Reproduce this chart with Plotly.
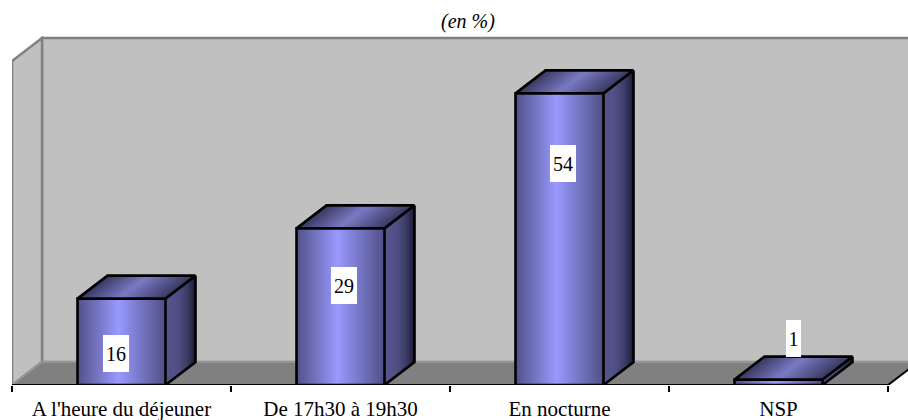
import plotly.graph_objects as go

categories = ["A l'heure du déjeuner", "De 17h30 à 19h30", "En nocturne", "NSP"]
values = [16, 29, 54, 1]
y_axis_max = 60

# ----- styling / layout constants (pixels are only used to set up scales)
W, H = 908, 420
ML, MB = 12, 35
CAT_PX = 219.0
PX_PER_UNIT = 5.4
DX = 30 / CAT_PX
DY = 23 / PX_PER_UNIT
BAR_W = 88 / CAT_PX
N = 88
x_lo, x_hi = -0.5, -0.5 + (W - ML) / CAT_PX
y_hi = (H - MB) / PX_PER_UNIT
label_dx = [-0.025, 0.015, 0.015, 0.07]
label_y = [5.9, 18.5, 41.1, 8.7]


def mix(c1, c2, t):
    return "rgb(%d,%d,%d)" % tuple(round(a + (b - a) * t) for a, b in zip(c1, c2))


def grad(t, edge, mid, peak=0.47):
    return mix(edge, mid, t / peak) if t < peak else mix(mid, edge, (t - peak) / (1 - peak))


FRONT_EDGE, FRONT_MID = (80, 80, 134), (153, 153, 255)
TOP_EDGE, TOP_MID = (56, 56, 96), (122, 122, 196)
SIDE_L, SIDE_R = (84, 84, 140), (26, 26, 50)

fig = go.Figure()

x_left_back = x_lo + DX
x_far = x_hi + 0.2

shapes = [
    dict(type="rect", x0=x_left_back, x1=x_far, y0=DY, y1=y_axis_max + DY,
         fillcolor="#c0c0c0", line=dict(color="#808080", width=2.5), layer="below"),
    dict(type="path",
         path=f"M {x_lo} 0 L {x_lo} {y_axis_max} L {x_left_back} {y_axis_max + DY} L {x_left_back} {DY} Z",
         fillcolor="#c0c0c0", line=dict(color="#808080", width=2.5), layer="below"),
    dict(type="path",
         path=f"M {x_lo} 0 L {x_left_back} {DY} L {3.5 + DX} {DY} L 3.5 0 Z",
         fillcolor="#808080", line=dict(color="#9a9a9a", width=1.5), layer="below"),
]

for i, v in enumerate(values):
    xl, xr = i - BAR_W / 2, i + BAR_W / 2
    s = BAR_W / N
    # front face strips
    xs = [xl + s * (j + 0.5) for j in range(N)]
    fig.add_trace(go.Bar(x=xs, y=[v] * N, width=s * 1.6,
                         marker=dict(color=[grad((j + 0.5) / N, FRONT_EDGE, FRONT_MID) for j in range(N)],
                                     line=dict(width=0)),
                         hoverinfo="skip"))
    # top face strips
    T = 44
    st = BAR_W / T
    for j in range(T):
        a, b = xl + st * j, min(xl + st * (j + 2), xr)
        fig.add_trace(go.Scatter(x=[a, b, b + DX, a + DX, a], y=[v, v, v + DY, v + DY, v],
                                 mode="lines", fill="toself", line=dict(width=0),
                                 fillcolor=grad((j + 0.5) / T, TOP_EDGE, TOP_MID), hoverinfo="skip"))
    # side face strips
    M = 30
    for j in range(M):
        a, b = j / M, min((j + 2) / M, 1)
        fig.add_trace(go.Scatter(
            x=[xr + DX * a, xr + DX * b, xr + DX * b, xr + DX * a, xr + DX * a],
            y=[DY * a, DY * b, v + DY * b, v + DY * a, DY * a],
            mode="lines", fill="toself", line=dict(width=0),
            fillcolor=mix(SIDE_L, SIDE_R, ((j + 0.5) / M) ** 2.5), hoverinfo="skip"))
    # outlines
    fig.add_trace(go.Scatter(
        x=[xl, xr, xr, xl, xl, None, xl, xl + DX, xr + DX, xr, None, xr + DX, xr + DX, xr],
        y=[0, 0, v, v, 0, None, v, v + DY, v + DY, v, None, v + DY, DY, 0],
        mode="lines", line=dict(color="black", width=2.6), hoverinfo="skip", cliponaxis=False))

# baseline and right floor edge
fig.add_trace(go.Scatter(x=[x_lo, 3.5, 3.5 + DX], y=[0, 0, DY], mode="lines",
                         line=dict(color="black", width=2), hoverinfo="skip", cliponaxis=False))

annotations = [
    dict(x=i + label_dx[i], y=label_y[i], text=str(v), showarrow=False,
         width=6 + 10 * len(str(v)) if v >= 10 else 15, height=37, borderpad=0, borderwidth=0,
         bgcolor="white", font=dict(family="Liberation Serif", size=20, color="black"),
         xref="x", yref="y", valign="middle", align="center")
    for i, v in enumerate(values)
]

fig.update_layout(
    width=W, height=H, showlegend=False, barmode="overlay",
    paper_bgcolor="white", plot_bgcolor="white",
    margin=dict(l=ML, r=0, t=0, b=MB, pad=0, autoexpand=False),
    title=dict(text="<i>(en %)</i>", x=468 / W, xanchor="center", y=1 - 21 / H, yanchor="middle",
               automargin=False,
               font=dict(family="Liberation Serif", size=20, color="black")),
    shapes=shapes, annotations=annotations,
    xaxis=dict(range=[x_lo, x_hi], tickmode="array", tickvals=list(range(len(categories))),
               ticktext=categories, ticks="", showgrid=False, zeroline=False, showline=False,
               automargin=False, ticklabelstandoff=9,
               tickfont=dict(family="Liberation Serif", size=21, color="black"),
               minor=dict(tickmode="linear", tick0=-0.5, dtick=1, ticks="outside", ticklen=6,
                          tickwidth=2, tickcolor="black", showgrid=False)),
    yaxis=dict(range=[0, y_hi], visible=False, showgrid=False, zeroline=False, automargin=False),
)

fig.write_html("out.html", config={"displayModeBar": False},
               post_script="document.body.style.margin='0';")
